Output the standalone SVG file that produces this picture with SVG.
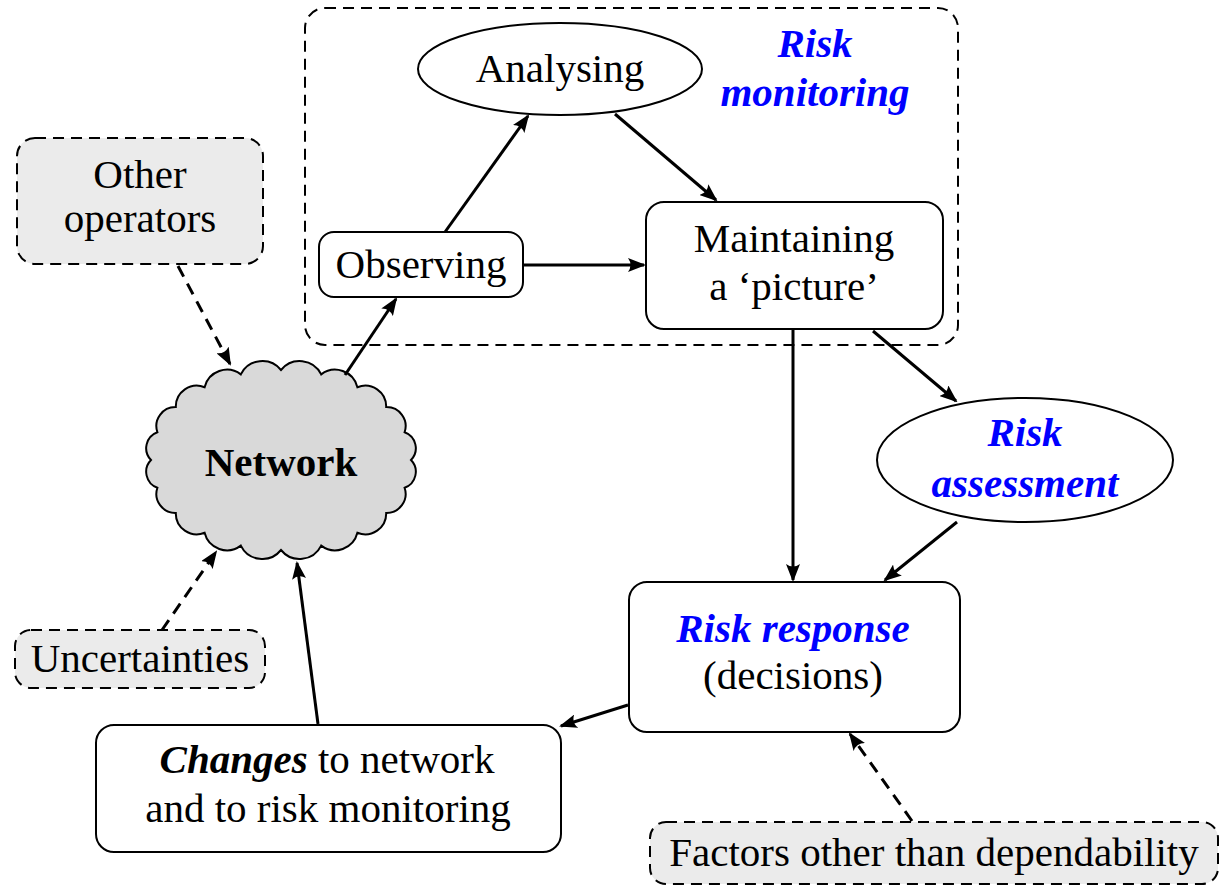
<svg xmlns="http://www.w3.org/2000/svg" width="1220" height="885" viewBox="0 0 1220 885">
<style>
text{font-family:"Liberation Serif","Times New Roman",serif;font-size:41px;fill:#000;text-anchor:middle}
.blue{fill:#0000ff;font-weight:bold;font-style:italic}
.node{fill:#fff;stroke:#000;stroke-width:2}
.ext{fill:#ebebeb;stroke:#000;stroke-width:2;stroke-dasharray:11 7}
.arr{fill:none;stroke:#000;stroke-width:3;marker-end:url(#ah)}
.darr{fill:none;stroke:#000;stroke-width:3;stroke-dasharray:12 8;marker-end:url(#ah)}
</style>
<defs>
<marker id="ah" viewBox="0 0 18 14" refX="16" refY="7" markerWidth="18" markerHeight="14" markerUnits="userSpaceOnUse" orient="auto">
<path d="M18,7 L0,0 Q5,7 0,14 Z" fill="#000"/>
</marker>
</defs>
<g id="risk-monitoring">
<rect x="305" y="8" width="653" height="337" rx="20" fill="none" stroke="#000" stroke-width="2" stroke-dasharray="11 7"/>
<text class="blue" x="815" y="57">Risk</text>
<text class="blue" x="815" y="106">monitoring</text>
</g>
<g id="analysing">
<ellipse cx="560" cy="69" rx="142" ry="46" class="node"/>
<text x="560" y="82">Analysing</text>
</g>
<g id="observing">
<rect x="319" y="232" width="204" height="65" rx="15" class="node"/>
<text x="421" y="278">Observing</text>
</g>
<g id="maintaining">
<rect x="646" y="202" width="297" height="127" rx="18" class="node"/>
<text x="794" y="252">Maintaining</text>
<text x="794" y="300">a ‘picture’</text>
</g>
<g id="other-operators">
<rect x="17" y="138" width="246" height="126" rx="18" class="ext"/>
<text x="140" y="188">Other</text>
<text x="140" y="232">operators</text>
</g>
<g id="network">
<path d="M411,460 A17,17 0 0 1 404.6,487.8 A19,19 0 0 1 386.2,512.9 A21,21 0 0 1 357.4,532.8 A23,23 0 0 1 321.2,545.6 A24,24 0 0 1 281,550 A24,24 0 0 1 240.8,545.6 A23,23 0 0 1 204.6,532.8 A21,21 0 0 1 175.8,512.9 A19,19 0 0 1 157.4,487.8 A17,17 0 0 1 151,460 A17,17 0 0 1 157.4,432.2 A19,19 0 0 1 175.8,407.1 A21,21 0 0 1 204.6,387.2 A23,23 0 0 1 240.8,374.4 A24,24 0 0 1 281,370 A24,24 0 0 1 321.2,374.4 A23,23 0 0 1 357.4,387.2 A21,21 0 0 1 386.2,407.1 A19,19 0 0 1 404.6,432.2 A17,17 0 0 1 411,460 Z" fill="#d9d9d9" stroke="#000" stroke-width="2"/>
<text x="281" y="476" font-weight="bold">Network</text>
</g>
<g id="risk-assessment">
<ellipse cx="1025" cy="460" rx="148" ry="62" class="node"/>
<text class="blue" x="1025" y="446">Risk</text>
<text class="blue" x="1025" y="497">assessment</text>
</g>
<g id="risk-response">
<rect x="629" y="582" width="331" height="150" rx="18" class="node"/>
<text class="blue" x="793" y="642">Risk response</text>
<text x="793" y="689">(decisions)</text>
</g>
<g id="changes">
<rect x="96" y="725" width="465" height="127" rx="18" class="node"/>
<text x="327" y="773"><tspan font-weight="bold" font-style="italic">Changes</tspan> to network</text>
<text x="328" y="822">and to risk monitoring</text>
</g>
<g id="uncertainties">
<rect x="15" y="630" width="250" height="58" rx="16" class="ext"/>
<text x="140" y="672">Uncertainties</text>
</g>
<g id="factors">
<rect x="650" y="822" width="568" height="62" rx="16" class="ext"/>
<text x="934" y="866">Factors other than dependability</text>
</g>
<g id="connectors">
<line class="darr" x1="178" y1="266" x2="230" y2="364"/>
<line class="arr" x1="345" y1="375" x2="396" y2="299"/>
<line class="arr" x1="445" y1="232" x2="528" y2="116"/>
<line class="arr" x1="615" y1="114" x2="716" y2="200"/>
<line class="arr" x1="523" y1="265" x2="644" y2="265"/>
<line class="arr" x1="793" y1="330" x2="793" y2="580"/>
<line class="arr" x1="873" y1="331" x2="956" y2="401"/>
<line class="arr" x1="957" y1="522" x2="885" y2="580"/>
<line class="arr" x1="628" y1="705" x2="561" y2="726"/>
<line class="arr" x1="318" y1="724" x2="297" y2="563"/>
<line class="darr" x1="162" y1="630" x2="216" y2="552"/>
<line class="darr" x1="912" y1="821" x2="850" y2="734"/>
</g>
</svg>
